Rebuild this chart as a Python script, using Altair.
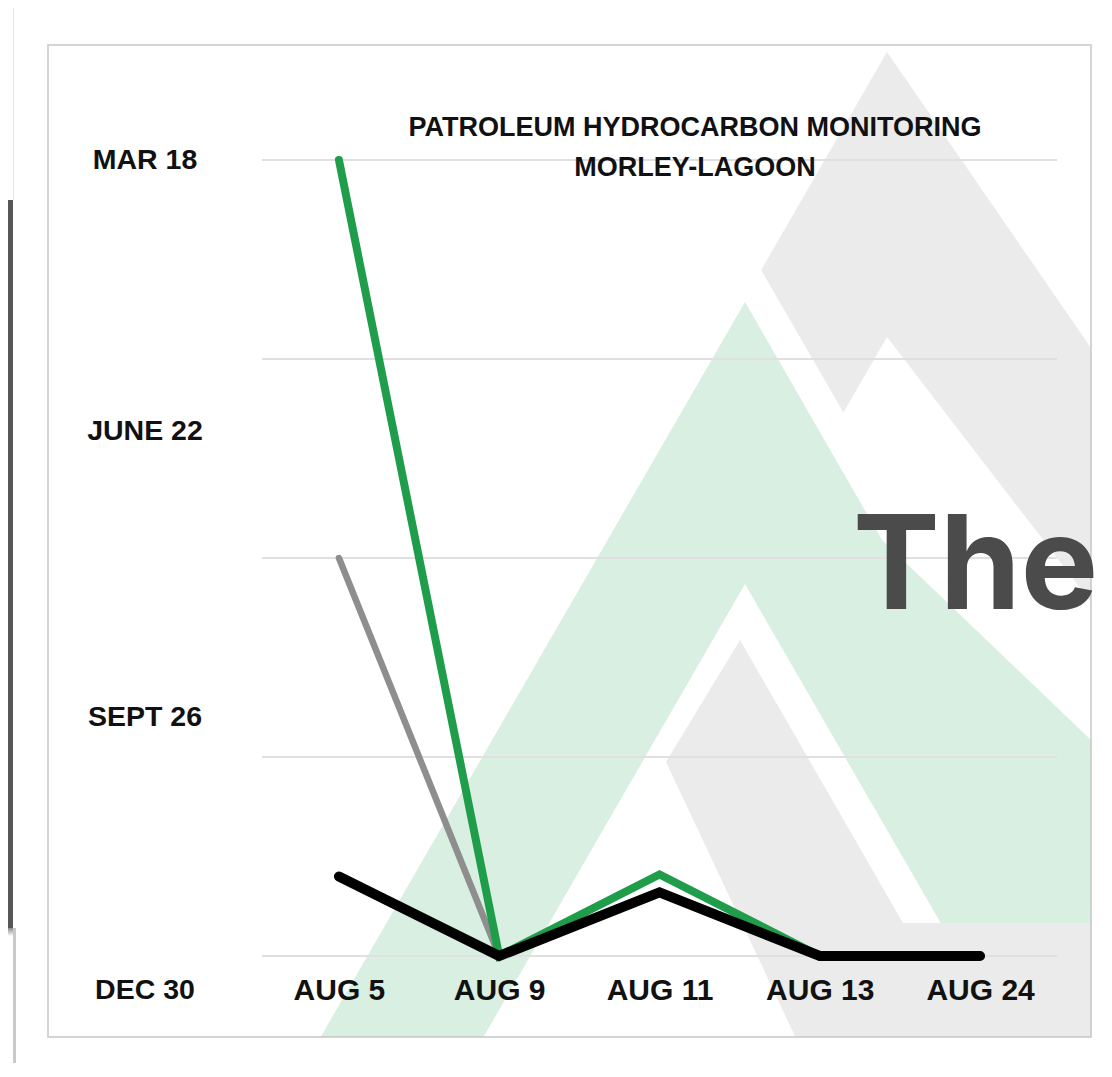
import math
import altair as alt
import pandas as pd

# ---------------- data ----------------
dates = ["AUG 5", "AUG 9", "AUG 11", "AUG 13", "AUG 24"]
green_vals = [4.0, 0.0, 0.41, 0.0, 0.0]
gray_dates = ["AUG 5", "AUG 9"]
gray_vals = [2.0, 0.0]
black_vals = [0.40, 0.0, 0.32, 0.0, 0.0]
y_label_text = ["MAR 18", "JUNE 22", "SEPT 26", "DEC 30"]
y_label_pos = [4.0, 2.64, 1.20, -0.17]
grid_vals = [0, 1, 2, 3, 4]
title_lines = ["PATROLEUM HYDROCARBON MONITORING", "MORLEY-LAGOON"]
overlay_word = "The"

# ---------------- layout (pixels) ----------------
PLOT_W, PLOT_H = 795, 796
PAD = {"left": 254, "top": 152, "right": 47, "bottom": 107}
OX, OY = 262, 160          # page position of plot origin
FRAME = (48, 45, 1091, 1037)
S3 = math.sqrt(3)
FONT = "Liberation Sans"

green_df = pd.DataFrame({"date": dates, "v": green_vals})
gray_df = pd.DataFrame({"date": gray_dates, "v": gray_vals})
black_df = pd.DataFrame({"date": dates, "v": black_vals})
ylab_df = pd.DataFrame({"label": y_label_text, "pos": y_label_pos})
grid_df = pd.DataFrame({"g": grid_vals})
title_df = pd.DataFrame({"line": title_lines, "py": [128 - OY, 168 - OY]})

# ---------------- background decoration (faint logo) ----------------
def triangle(ax, ay, base_y=1100):
    h = base_y - ay
    return [(ax, ay), (ax + h / S3, base_y), (ax - h / S3, base_y)]


def clip_poly(poly, xmin, ymin, xmax, ymax):
    def clip(pts, inside, inter):
        out = []
        n = len(pts)
        for i in range(n):
            cur, prev = pts[i], pts[i - 1]
            if inside(cur):
                if not inside(prev):
                    out.append(inter(prev, cur))
                out.append(cur)
            elif inside(prev):
                out.append(inter(prev, cur))
        return out

    def ix(xc):
        return lambda p, q: (xc, p[1] + (q[1] - p[1]) * (xc - p[0]) / (q[0] - p[0]))

    def iy(yc):
        return lambda p, q: (p[0] + (q[0] - p[0]) * (yc - p[1]) / (q[1] - p[1]), yc)

    pts = poly
    pts = clip(pts, lambda p: p[0] >= xmin, ix(xmin))
    pts = clip(pts, lambda p: p[0] <= xmax, ix(xmax))
    pts = clip(pts, lambda p: p[1] >= ymin, iy(ymin))
    pts = clip(pts, lambda p: p[1] <= ymax, iy(ymax))
    return pts


def area_rows(poly):
    xs = []
    for p in sorted(v[0] for v in poly):
        if not xs or p - xs[-1] > 1e-6:
            xs.append(p)
    rows = []
    n = len(poly)
    for x in xs:
        ys = []
        for i in range(n):
            p, q = poly[i - 1], poly[i]
            lo, hi = min(p[0], q[0]), max(p[0], q[0])
            if lo - 1e-4 <= x <= hi + 1e-4:
                if abs(q[0] - p[0]) < 1e-6:
                    ys += [p[1], q[1]]
                else:
                    t = (x - p[0]) / (q[0] - p[0])
                    ys.append(p[1] + t * (q[1] - p[1]))
        if ys:
            rows.append({"x": x - OX, "y": min(ys) - OY, "y2": max(ys) - OY})
    return pd.DataFrame(rows)


def shape_layer(poly, color):
    df = area_rows(clip_poly(poly, *FRAME))
    return alt.Chart(df).mark_area(color=color, opacity=1, interpolate="linear").encode(
        x=alt.X("x:Q", scale=None, axis=None),
        y=alt.Y("y:Q", scale=None, axis=None),
        y2="y2:Q",
    )


LIGHT_GRAY = "#ebebeb"
LIGHT_GREEN = "#d8efe1"
WHITE = "#ffffff"
shapes = [
    ([(887, 52), (1091, 348), (1091, 1100), (887 - 1048 / S3, 1100)], LIGHT_GRAY),
    ([(887, 337), (1091, 602), (1091, 1100), (887 - 763 / S3, 1100)], WHITE),
    (triangle(745, 242), WHITE),
    ([(745, 302), (882, 540), (1091, 740), (1091, 1100), (745 - 798 / S3, 1100)], LIGHT_GREEN),
    (triangle(745, 584), WHITE),
    ([(900, 923), (1091, 923), (1091, 1100), (900, 1100)], LIGHT_GRAY),
    ([(740, 640), (666, 762), (825, 1100), (1005, 1100)], LIGHT_GRAY),
]
bg_layers = [shape_layer(p, c) for p, c in shapes]


def rect(x1, y1, x2, y2, **kw):
    return alt.Chart(pd.DataFrame({"k": [0]})).mark_rect(**kw).encode(
        x=alt.value(x1 - OX), x2=alt.value(x2 - OX),
        y=alt.value(y1 - OY), y2=alt.value(y2 - OY),
    )


dark_block = rect(0, 200, 13, 928, color="#575757")
dark_shadow = rect(0, 928, 13, 936, color=alt.LinearGradient(
    gradient="linear", x1=0, y1=0, x2=0, y2=1,
    stops=[alt.GradientStop(offset=0, color="#8a8a8a"), alt.GradientStop(offset=1, color="#ffffff")]))
card_edge = rect(13, 928, 16, 1063, color="#c9c9c9")
card_edge_top = rect(13, 0, 14, 200, color="#e4e4e4")
frame = rect(*FRAME, filled=False, stroke="#c6c6c6", strokeWidth=1.5)

# ---------------- chart layers ----------------
x_enc = alt.X(
    "date:N",
    sort=dates,
    scale=alt.Scale(domain=dates, padding=0.48),
    axis=alt.Axis(
        title=None, labelAngle=0, ticks=False, domain=False, grid=False,
        labelFont=FONT, labelFontSize=30, labelFontWeight="bold", labelColor="#111111",
        labelPadding=34, labelBaseline="middle", zindex=2,
    ),
)
y_scale = alt.Scale(domain=[0, 4], nice=False, zero=False)
y_enc = alt.Y("v:Q", scale=y_scale, axis=None)

grid = alt.Chart(grid_df).mark_rule(color="#e0e0e0", strokeWidth=2).encode(
    y=alt.Y("g:Q", scale=y_scale, axis=None)
)

ylabels = alt.Chart(ylab_df).mark_text(
    font=FONT, fontSize=28.5, fontWeight="bold", color="#111111", align="center", baseline="middle"
).encode(
    y=alt.Y("pos:Q", scale=y_scale, axis=None),
    x=alt.value(145 - OX),
    text="label:N",
)

title_text = alt.Chart(title_df).mark_text(
    font=FONT, fontSize=27, fontWeight="bold", color="#111111", align="center", baseline="middle"
).encode(
    y=alt.Y("py:Q", scale=None, axis=None),
    x=alt.value(695 - OX),
    text="line:N",
)

line_kw = dict(strokeCap="round", strokeJoin="miter")
gray_line = alt.Chart(gray_df).mark_line(color="#8e8e8e", strokeWidth=6.5, **line_kw).encode(x=x_enc, y=y_enc)
green_line = alt.Chart(green_df).mark_line(color="#1f9d4b", strokeWidth=8, **line_kw).encode(x=x_enc, y=y_enc)
black_line = alt.Chart(black_df).mark_line(color="#000000", strokeWidth=10, **line_kw).encode(x=x_enc, y=y_enc)

the_text = alt.Chart(pd.DataFrame({"t": [overlay_word]})).mark_text(
    font="Inter", fontSize=130, fontWeight="bold", color="#4b4b4b", align="left", baseline="alphabetic"
).encode(x=alt.value(853 - OX), y=alt.value(609 - OY), text="t:N")

chart = alt.layer(
    dark_block, dark_shadow, card_edge, card_edge_top,
    *bg_layers, frame, grid, ylabels, title_text,
    gray_line, green_line, black_line, the_text,
).properties(
    width=PLOT_W,
    height=PLOT_H,
    padding=PAD,
    autosize=alt.AutoSizeParams(type="none"),
    background="#ffffff",
).configure_view(stroke=None)

chart.save("out.html", embed_options={"renderer": "svg", "actions": False})
